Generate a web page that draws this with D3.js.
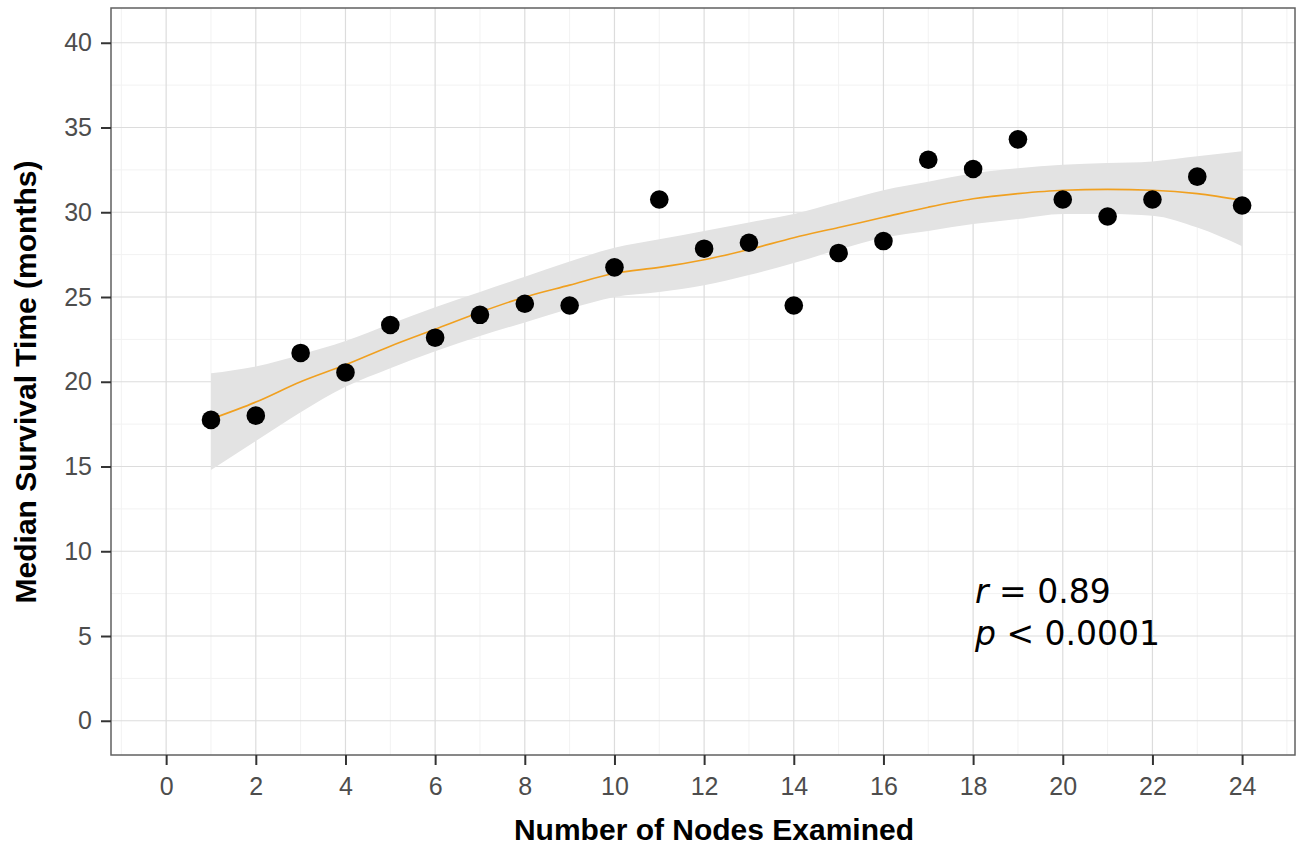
<!DOCTYPE html>
<html>
<head>
<meta charset="utf-8">
<script src="https://cdn.jsdelivr.net/npm/d3@7"></script>
<style>
  body { margin: 0; background: #fff; }
  svg { display: block; }
</style>
</head>
<body>
<div id="chart"></div>
<script>
// nodes examined vs median survival
var nodes = [1, 2, 3, 4, 5, 6, 7, 8, 9, 10, 11, 12, 13, 14, 15, 16, 17, 18, 19, 20, 21, 22, 23, 24];
var survival = [17.75, 18.0, 21.7, 20.55, 23.35, 22.6, 23.95, 24.6, 24.5, 26.75, 30.75, 27.85, 28.2, 24.5, 27.6, 28.3, 33.1, 32.55, 34.3, 30.75, 29.75, 30.75, 32.1, 30.4];
// loess fit and its confidence band
var fitLine = [17.8, 18.8, 20.0, 21.0, 22.1, 23.1, 24.1, 25.0, 25.7, 26.4, 26.75, 27.2, 27.8, 28.5, 29.1, 29.7, 30.3, 30.8, 31.1, 31.3, 31.35, 31.3, 31.1, 30.7];
var bandUpper = [20.5, 20.9, 21.6, 22.4, 23.4, 24.4, 25.3, 26.2, 27.1, 27.9, 28.4, 28.9, 29.4, 29.9, 30.6, 31.3, 31.8, 32.3, 32.6, 32.8, 32.9, 33.0, 33.3, 33.6];
var bandLower = [14.8, 16.5, 18.2, 19.7, 20.8, 21.8, 22.7, 23.5, 24.3, 25.0, 25.3, 25.7, 26.3, 27.0, 27.8, 28.5, 28.9, 29.3, 29.6, 29.9, 29.9, 29.8, 29.1, 28.0];
var xTicks = [0, 2, 4, 6, 8, 10, 12, 14, 16, 18, 20, 22, 24];
var yTicks = [0, 5, 10, 15, 20, 25, 30, 35, 40];
var xMinor = [-1, 1, 3, 5, 7, 9, 11, 13, 15, 17, 19, 21, 23, 25];
var yMinor = [2.5, 7.5, 12.5, 17.5, 22.5, 27.5, 32.5, 37.5];

var width = 1301, height = 848;
var margin = { top: 8, right: 6, bottom: 93, left: 111 };

var svg = d3.select("#chart").append("svg")
    .attr("width", width)
    .attr("height", height);

var x = d3.scaleLinear()
    .domain([-1.23, 25.18])
    .range([margin.left, width - margin.right]);

var y = d3.scaleLinear()
    .domain([-2.02, 42.05])
    .range([height - margin.bottom, margin.top]);

var data = nodes.map(function (d, i) {
    return { x: d, y: survival[i], fit: fitLine[i], hi: bandUpper[i], lo: bandLower[i] };
});

// grid
var grid = svg.append("g");
grid.selectAll(".xminor").data(xMinor).enter().append("line")
    .attr("x1", function (d) { return x(d); }).attr("x2", function (d) { return x(d); })
    .attr("y1", y.range()[0]).attr("y2", y.range()[1])
    .attr("stroke", "#f2f2f2").attr("stroke-width", 1);
grid.selectAll(".yminor").data(yMinor).enter().append("line")
    .attr("y1", function (d) { return y(d); }).attr("y2", function (d) { return y(d); })
    .attr("x1", x.range()[0]).attr("x2", x.range()[1])
    .attr("stroke", "#f2f2f2").attr("stroke-width", 1);
grid.selectAll(".xmajor").data(xTicks).enter().append("line")
    .attr("x1", function (d) { return x(d); }).attr("x2", function (d) { return x(d); })
    .attr("y1", y.range()[0]).attr("y2", y.range()[1])
    .attr("stroke", "#dcdcdc").attr("stroke-width", 1.2);
grid.selectAll(".ymajor").data(yTicks).enter().append("line")
    .attr("y1", function (d) { return y(d); }).attr("y2", function (d) { return y(d); })
    .attr("x1", x.range()[0]).attr("x2", x.range()[1])
    .attr("stroke", "#dcdcdc").attr("stroke-width", 1.2);

// confidence band
var area = d3.area()
    .x(function (d) { return x(d.x); })
    .y0(function (d) { return y(d.lo); })
    .y1(function (d) { return y(d.hi); })
    .curve(d3.curveMonotoneX);
svg.append("path").datum(data)
    .attr("d", area)
    .attr("fill", "#e3e3e3");

// fit line
var line = d3.line()
    .x(function (d) { return x(d.x); })
    .y(function (d) { return y(d.fit); })
    .curve(d3.curveMonotoneX);
svg.append("path").datum(data)
    .attr("d", line)
    .attr("fill", "none")
    .attr("stroke", "#f0a020")
    .attr("stroke-width", 1.6);

// points
svg.append("g").selectAll("circle").data(data).enter().append("circle")
    .attr("cx", function (d) { return x(d.x); })
    .attr("cy", function (d) { return y(d.y); })
    .attr("r", 9.3)
    .attr("fill", "#000");

// panel border
svg.append("rect")
    .attr("x", x.range()[0]).attr("y", y.range()[1])
    .attr("width", x.range()[1] - x.range()[0])
    .attr("height", y.range()[0] - y.range()[1])
    .attr("fill", "none")
    .attr("stroke", "#606060")
    .attr("stroke-width", 1.5);

// axes
var xAxis = svg.append("g")
    .attr("transform", "translate(0," + y.range()[0] + ")")
    .call(d3.axisBottom(x).tickValues(xTicks).tickSize(10).tickPadding(12));
var yAxis = svg.append("g")
    .attr("transform", "translate(" + x.range()[0] + ",0)")
    .call(d3.axisLeft(y).tickValues(yTicks).tickSize(10).tickPadding(9));

[xAxis, yAxis].forEach(function (ax) {
    ax.select(".domain").remove();
    ax.selectAll(".tick line").attr("stroke", "#333").attr("stroke-width", 2);
    ax.selectAll(".tick text")
        .attr("fill", "#4d4d4d")
        .style("font-family", "'Liberation Sans', Arial, sans-serif")
        .style("font-size", "25px");
});

// axis titles
svg.append("text")
    .attr("x", 714)
    .attr("y", 840)
    .attr("text-anchor", "middle")
    .style("font-family", "'Liberation Sans', Arial, sans-serif")
    .style("font-size", "30px")
    .style("font-weight", "bold")
    .attr("fill", "#000")
    .text("Number of Nodes Examined");

svg.append("text")
    .attr("transform", "translate(36," + 382 + ") rotate(-90)")
    .attr("text-anchor", "middle")
    .style("font-family", "'Liberation Sans', Arial, sans-serif")
    .style("font-size", "30px")
    .style("font-weight", "bold")
    .attr("fill", "#000")
    .text("Median Survival Time (months)");

// annotation
var note = svg.append("g")
    .style("font-family", "'DejaVu Sans', Verdana, sans-serif")
    .style("font-size", "33px")
    .attr("fill", "#000");
var t1 = note.append("text").attr("x", 975).attr("y", 603);
t1.append("tspan").style("font-style", "italic").text("r");
t1.append("tspan").text(" = 0.89");
var t2 = note.append("text").attr("x", 975).attr("y", 645);
t2.append("tspan").style("font-style", "italic").text("p");
t2.append("tspan").text(" < 0.0001");
</script>
</body>
</html>
